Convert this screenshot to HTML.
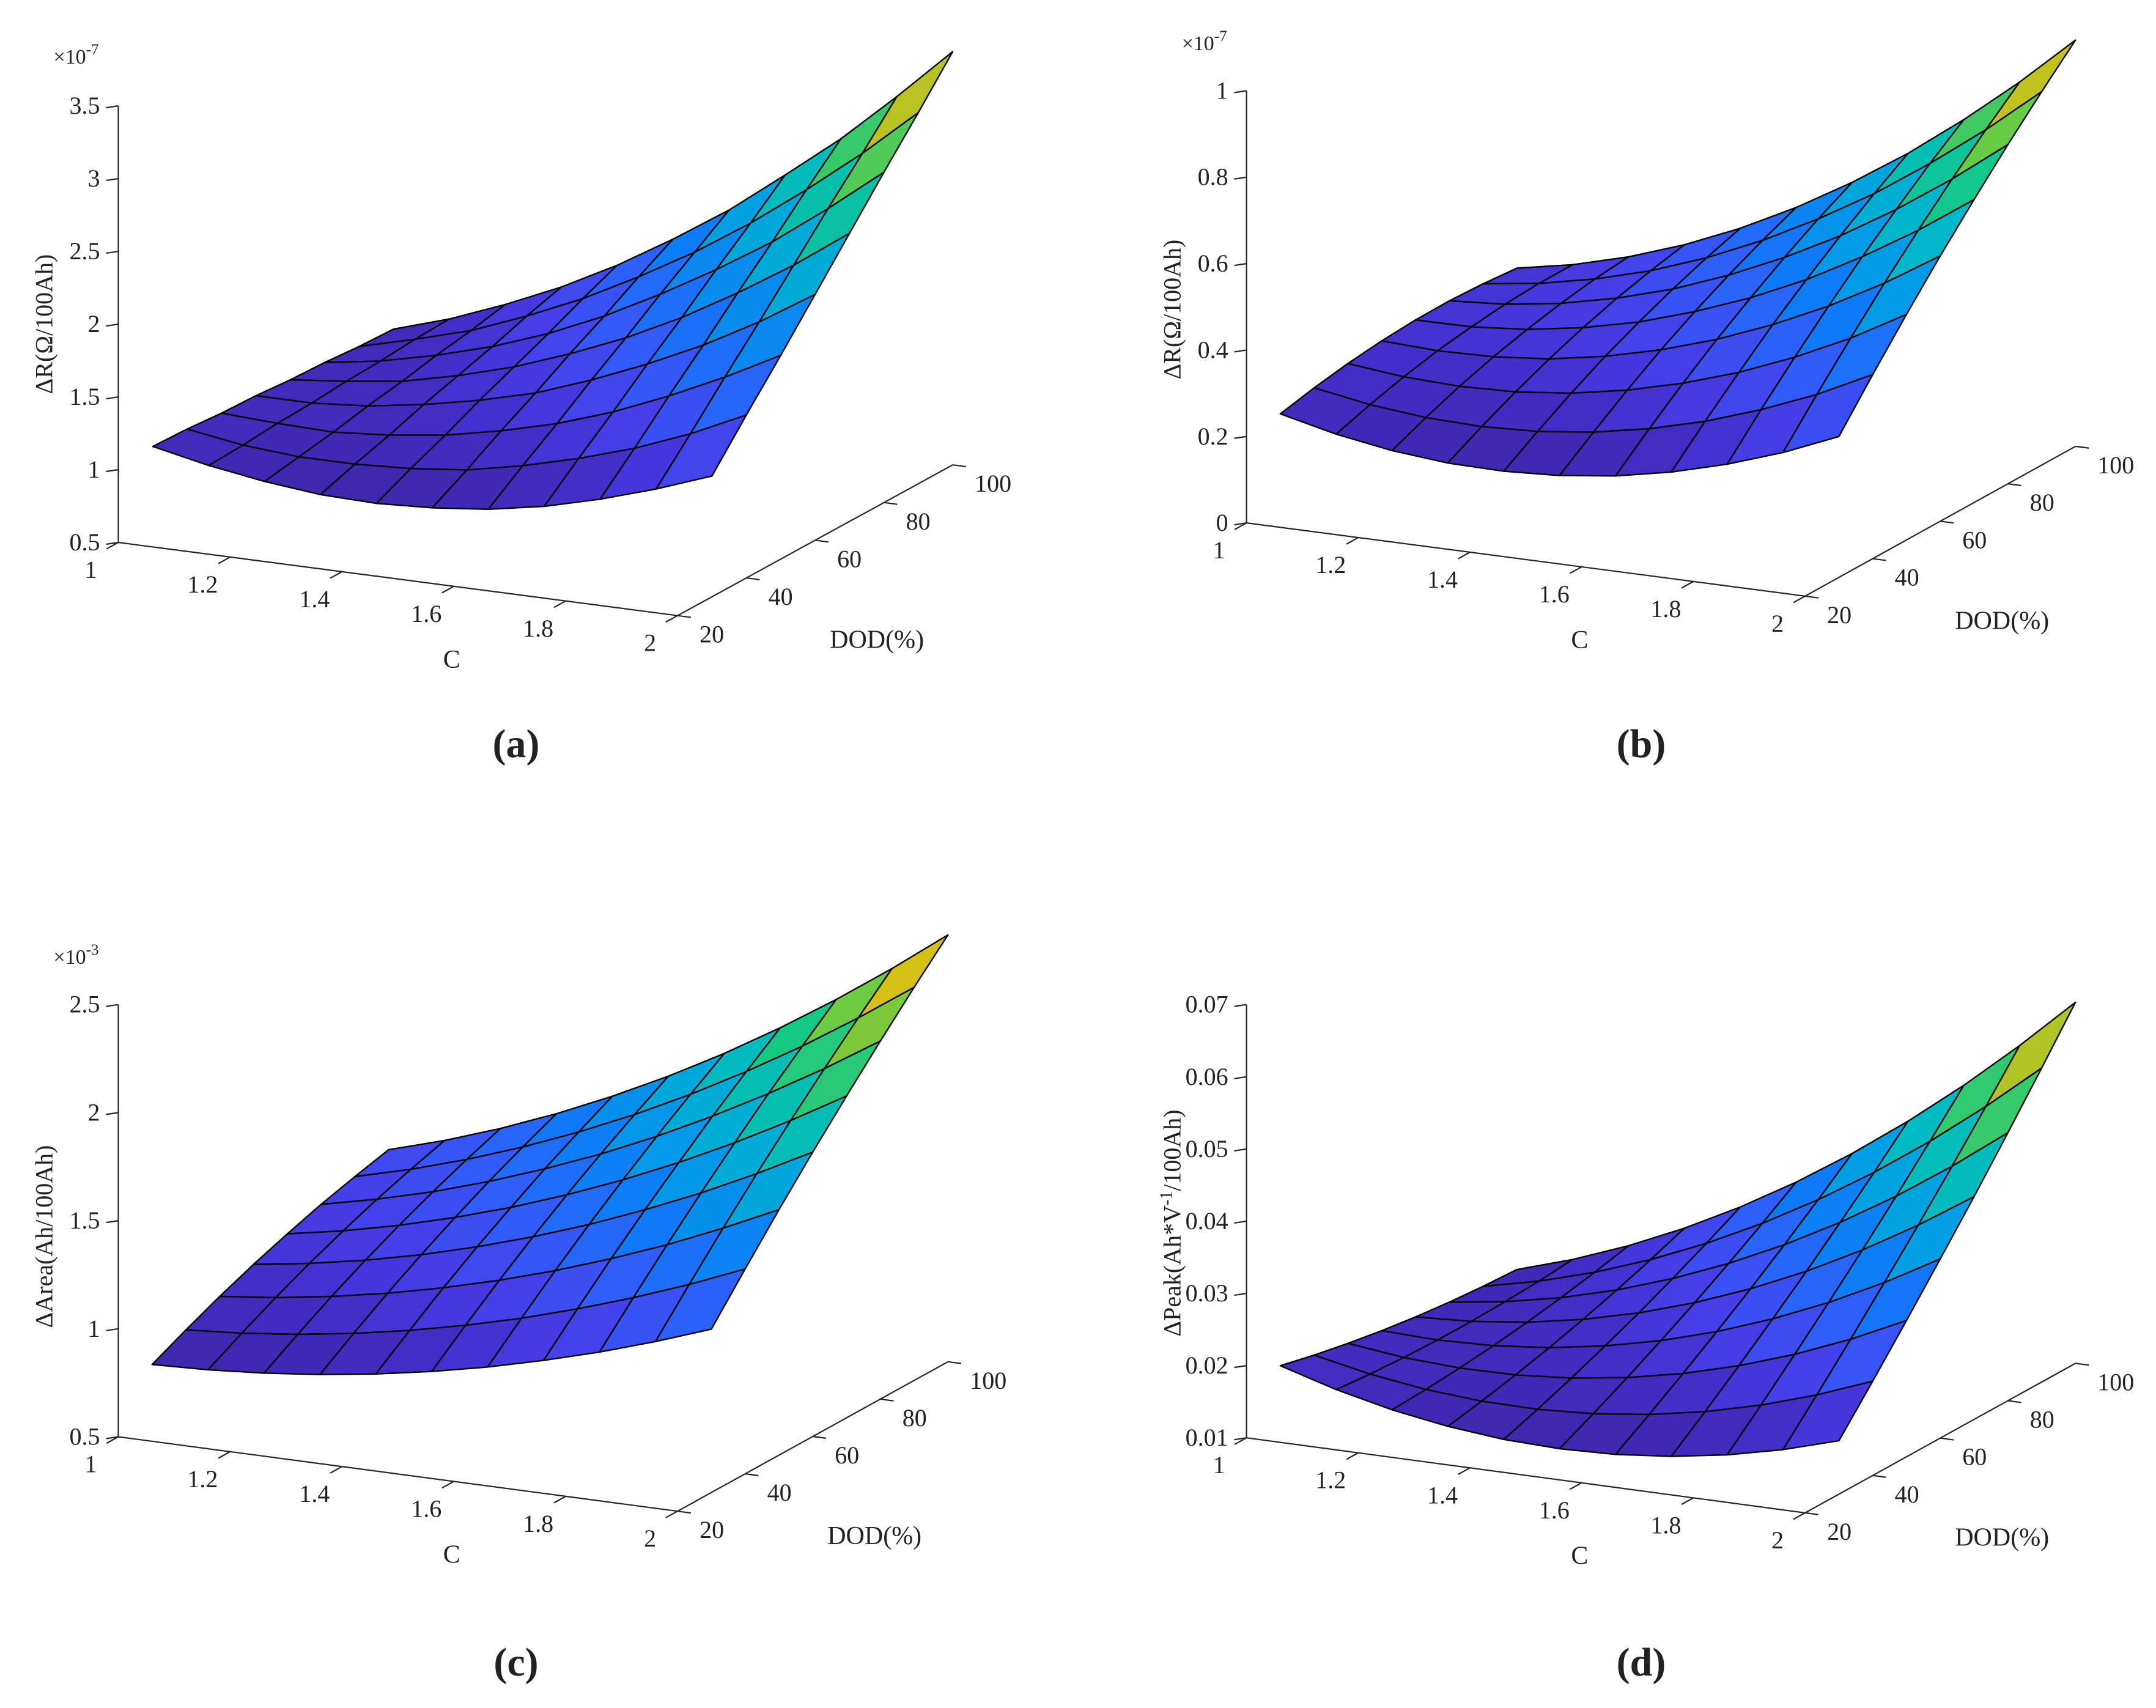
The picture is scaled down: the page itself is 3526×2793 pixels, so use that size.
<!DOCTYPE html>
<html><head><meta charset="utf-8"><style>
html,body{margin:0;padding:0;background:#fff;}
svg{display:block;}
text{font-family:"Liberation Serif",serif;fill:#222;}
</style></head><body>
<svg id="fig" width="3526" height="2793" viewBox="0 0 3526 2793" xmlns="http://www.w3.org/2000/svg">
<rect width="3526" height="2793" fill="#fff"/>
</svg>
<script>
// ---- shared grid values ----
const cValues = [1,1.1,1.2,1.3,1.4,1.5,1.6,1.7,1.8,1.9,2];
const dodValues = [30,40,50,60,70,80,90,100];
const cTicks = [1,1.2,1.4,1.6,1.8,2];
const cTickLabels = ["1","1.2","1.4","1.6","1.8","2"];
const dodTicks = [20,40,60,80,100];
const dodTickLabels = ["20","40","60","80","100"];
// ---- panel (a): ΔR ×1e-7 ----
const zTicksA = [0.5,1,1.5,2,2.5,3,3.5];
const zTickLabelsA = ["0.5","1","1.5","2","2.5","3","3.5"];
const zA = [
[1.03,0.95,0.89,0.85,0.84,0.86,0.90,0.97,1.07,1.19,1.33],
[1.02,0.96,0.93,0.93,0.95,0.99,1.07,1.17,1.29,1.44,1.62],
[1.00,0.98,0.97,1.00,1.05,1.13,1.23,1.36,1.52,1.70,1.90],
[0.99,0.99,1.02,1.08,1.16,1.26,1.40,1.56,1.74,1.95,2.19],
[0.97,1.01,1.06,1.15,1.26,1.40,1.56,1.75,1.97,2.21,2.48],
[0.96,1.02,1.11,1.22,1.36,1.53,1.73,1.95,2.19,2.47,2.77],
[0.94,1.04,1.15,1.30,1.47,1.67,1.89,2.14,2.42,2.72,3.05],
[0.93,1.05,1.20,1.37,1.57,1.80,2.05,2.34,2.64,2.98,3.34]];
// ---- panel (b): ΔR ×1e-7 ----
const zTicksB = [0,0.2,0.4,0.6,0.8,1];
const zTickLabelsB = ["0","0.2","0.4","0.6","0.8","1"];
const zB = [
[0.209,0.179,0.158,0.146,0.144,0.151,0.167,0.193,0.228,0.272,0.326],
[0.226,0.204,0.191,0.187,0.193,0.208,0.233,0.267,0.311,0.363,0.426],
[0.239,0.225,0.220,0.224,0.238,0.262,0.295,0.337,0.389,0.450,0.522],
[0.248,0.242,0.245,0.257,0.280,0.312,0.353,0.404,0.464,0.534,0.614],
[0.253,0.254,0.265,0.286,0.316,0.357,0.406,0.465,0.535,0.613,0.701],
[0.254,0.263,0.282,0.311,0.349,0.398,0.456,0.523,0.601,0.688,0.785],
[0.250,0.268,0.295,0.331,0.378,0.435,0.502,0.577,0.664,0.759,0.864],
[0.243,0.268,0.303,0.348,0.403,0.468,0.543,0.627,0.722,0.826,0.940]];
// ---- panel (c): ΔArea ×1e-3 ----
const zTicksC = [0.5,1,1.5,2,2.5];
const zTickLabelsC = ["0.5","1","1.5","2","2.5"];
const zC = [
[0.748,0.758,0.777,0.805,0.842,0.888,0.943,1.008,1.081,1.164,1.256],
[0.822,0.841,0.870,0.909,0.957,1.015,1.082,1.160,1.246,1.342,1.448],
[0.890,0.919,0.959,1.008,1.068,1.137,1.216,1.306,1.405,1.516,1.636],
[0.952,0.991,1.040,1.100,1.171,1.252,1.343,1.446,1.558,1.682,1.816],
[1.007,1.055,1.115,1.186,1.267,1.360,1.463,1.578,1.704,1.841,1.989],
[1.057,1.115,1.184,1.266,1.359,1.462,1.578,1.706,1.845,1.995,2.157],
[1.099,1.167,1.247,1.339,1.443,1.558,1.686,1.826,1.978,2.143,2.319],
[1.137,1.214,1.304,1.407,1.522,1.649,1.789,1.942,2.107,2.285,2.475]];
// ---- panel (d): ΔPeak ----
const zTicksD = [0.01,0.02,0.03,0.04,0.05,0.06,0.07];
const zTickLabelsD = ["0.01","0.02","0.03","0.04","0.05","0.06","0.07"];
const zD = [
[0.01740,0.01513,0.01337,0.01211,0.01135,0.01110,0.01135,0.01211,0.01337,0.01513,0.01740],
[0.01628,0.01469,0.01360,0.01301,0.01293,0.01336,0.01429,0.01573,0.01767,0.02011,0.02306],
[0.01532,0.01439,0.01398,0.01407,0.01466,0.01577,0.01738,0.01949,0.02211,0.02524,0.02887],
[0.01448,0.01423,0.01449,0.01525,0.01653,0.01831,0.02059,0.02339,0.02669,0.03050,0.03482],
[0.01380,0.01422,0.01514,0.01658,0.01852,0.02097,0.02394,0.02740,0.03138,0.03587,0.04086],
[0.01326,0.01436,0.01595,0.01806,0.02069,0.02381,0.02745,0.03160,0.03626,0.04143,0.04711],
[0.01286,0.01462,0.01689,0.01968,0.02298,0.02678,0.03110,0.03592,0.04126,0.04712,0.05348],
[0.01260,0.01504,0.01798,0.02144,0.02542,0.02990,0.03490,0.04040,0.04642,0.05296,0.06000]];

const NS = "http://www.w3.org/2000/svg";
const SERIF = '"Liberation Serif", serif';
const svg = document.getElementById('fig');
function mk(tag, attrs, parent){ const e=document.createElementNS(NS,tag); for(const k in attrs) e.setAttribute(k,attrs[k]); if(tag==='text' && !attrs['font-family']) e.setAttribute('font-family',SERIF); (parent||svg).appendChild(e); return e; }

const stops = [[0,62,38,168],[0.1,68,44,198],[0.2,70,62,232],[0.3,50,92,252],[0.4,15,122,248],[0.5,0,158,228],[0.6,0,184,200],[0.7,18,200,135],[0.8,110,204,64],[0.9,212,192,22],[1,250,200,40]];
function cmap(v){ v=Math.max(0,Math.min(1,v)); for(let k=1;k<stops.length;k++){ if(v<=stops[k][0]){ const a=stops[k-1],b=stops[k]; const f=(v-a[0])/(b[0]-a[0]); return 'rgb('+[1,2,3].map(q=>Math.round(a[q]+(b[q]-a[q])*f)).join(',')+')'; } } return 'rgb(250,200,40)'; }

function panel(cfg, Z, zTicks, zLabels){
  const g = mk('g',{});
  
  
  const O=cfg.O,U=cfg.U,V=cfg.V,W=cfg.W;
  function P(C,D,z){ const c=(C-1), d=(D-20)/80, t=(z-cfg.zmin)/(cfg.zmax-cfg.zmin); return [O[0]+c*U[0]+d*V[0], O[1]+c*U[1]+d*V[1]+t*W]; }
  const ax = mk('g',{stroke:'#262626','stroke-width':2.2,fill:'none'},g);
  
  
  const zl = mk('line',{x1:O[0],y1:O[1],x2:O[0],y2:O[1]+W},ax);
  
  
  const cl = mk('line',{x1:O[0],y1:O[1],x2:O[0]+U[0],y2:O[1]+U[1]},ax);
  
  
  const dl = mk('line',{x1:O[0]+U[0],y1:O[1]+U[1],x2:O[0]+U[0]+V[0],y2:O[1]+U[1]+V[1]},ax);
  
  
  const vl=Math.hypot(V[0],V[1]), ul=Math.hypot(U[0],U[1]);
  cTicks.forEach((cv,k)=>{
    const p=P(cv,20,cfg.zmin);
    const tk=mk('line',{x1:p[0],y1:p[1],x2:p[0]-V[0]/vl*22,y2:p[1]-V[1]/vl*22},ax);
    
    
    const t=mk('text',{x:p[0]-45,y:p[1]+58,'font-size':40,'text-anchor':'middle'},g);
    t.textContent=cTickLabels[k];
    
    
  });
  dodTicks.forEach((dv,k)=>{
    const c0=P(2,dv,cfg.zmin);
    const tk=mk('line',{x1:c0[0],y1:c0[1],x2:c0[0]+U[0]/ul*22,y2:c0[1]+U[1]/ul*22},ax);
    
    
    const t=mk('text',{x:c0[0]+36,y:c0[1]+44,'font-size':40},g);
    t.textContent=dodTickLabels[k];
    
    
  });
  zTicks.forEach((zv,k)=>{
    const p=P(1,20,zv);
    const tk=mk('line',{x1:p[0],y1:p[1],x2:p[0]-20,y2:p[1]+3},ax);
    
    
    const t=mk('text',{x:p[0]-30,y:p[1]+13,'font-size':40,'text-anchor':'end'},g);
    t.textContent=zLabels[k];
    
    
  });
  const sg = mk('g',{stroke:'#000','stroke-width':2.4,'stroke-linejoin':'round'},g);
  
  
  let mn=Infinity,mx=-Infinity; Z.forEach(r=>r.forEach(v=>{mn=Math.min(mn,v);mx=Math.max(mx,v);}));
  for(let j=dodValues.length-2;j>=0;j--){
    for(let i=0;i<cValues.length-1;i++){
      const a=P(cValues[i],dodValues[j],Z[j][i]), b=P(cValues[i+1],dodValues[j],Z[j][i+1]),
            c=P(cValues[i+1],dodValues[j+1],Z[j+1][i+1]), d=P(cValues[i],dodValues[j+1],Z[j+1][i]);
      const avg=(Z[j][i]+Z[j][i+1]+Z[j+1][i+1]+Z[j+1][i])/4;
      const poly=mk('polygon',{points:[a,b,c,d].map(p=>p[0].toFixed(1)+','+p[1].toFixed(1)).join(' '),fill:cmap((avg-mn)/(mx-mn))},sg);
      
      
    }
  }
  const cm=P(1.5,20,cfg.zmin);
  const ct=mk('text',{x:cm[0]+88,y:cm[1]+145,'font-size':42,'text-anchor':'middle'},g);
  ct.textContent='C';
  
  
  const dm=P(2,60,cfg.zmin);
  const dt=mk('text',{x:dm[0]+101,y:dm[1]+176,'font-size':42,'text-anchor':'middle'},g);
  dt.textContent='DOD(%)';
  
  
  const yt=mk('text',{x:0,y:0,'font-size':40,'text-anchor':'middle',fill:'#333',transform:'translate('+(O[0]-108)+','+cfg.ylabY+') rotate(-90)'},g);
  
  
  if(cfg.ylabSup){
    yt.appendChild(document.createTextNode(cfg.ylab[0]));
    const s=mk('tspan',{dy:-14,'font-size':28},yt); s.textContent=cfg.ylabSup;
    const r=mk('tspan',{dy:14},yt); r.textContent=cfg.ylab[1];
  } else yt.textContent=cfg.ylab;
  if(cfg.mult){
    const m=mk('text',{x:O[0]-106,y:cfg.multY,'font-size':34},g);
    
    
    m.appendChild(document.createTextNode('\u00d710'));
    const s=mk('tspan',{dy:-15,'font-size':25},m); s.textContent=cfg.mult;
  }
  const L=mk('text',{x:cfg.letter[0],y:cfg.letter[1],'font-size':66,'font-weight':'bold','text-anchor':'middle',fill:'#000','font-family':cfg.letterFont},g);
  L.textContent=cfg.letterText;
  
  
}

panel({name:'panel-a',O:[193.5,887],U:[914.6,119.7],V:[450,-246.5],W:-713.9,zmin:0.5,zmax:3.5,ylab:'\u0394R(\u03a9/100Ah)',ylabY:530,mult:'-7',multY:104,letter:[844,1238],letterText:'(a)',letterFont:'"Liberation Sans", sans-serif'}, zA, zTicksA, zTickLabelsA);
panel({name:'panel-b',O:[2038.6,855.1],U:[913.5,119.7],V:[442.2,-244.9],W:-706.7,zmin:0,zmax:1,ylab:'\u0394R(\u03a9/100Ah)',ylabY:506,mult:'-7',multY:82,letter:[2684,1238],letterText:'(b)',letterFont:'"Liberation Serif", serif'}, zB, zTicksB, zTickLabelsB);
panel({name:'panel-c',O:[193.5,2349.5],U:[914.6,121.7],V:[442.2,-244.4],W:-706.8,zmin:0.5,zmax:2.5,ylab:'\u0394Area(Ah/100Ah)',ylabY:2022,mult:'-3',multY:1576,letter:[844,2740],letterText:'(c)',letterFont:'"Liberation Sans", sans-serif'}, zC, zTicksC, zTickLabelsC);
panel({name:'panel-d',O:[2038.6,2351.2],U:[913.5,122.7],V:[442.2,-244.5],W:-708.5,zmin:0.01,zmax:0.07,ylab:['\u0394Peak(Ah*V','/100Ah)'],ylabSup:'-1',ylabY:2000,letter:[2684,2740],letterText:'(d)',letterFont:'"Liberation Serif", serif'}, zD, zTicksD, zTickLabelsD);
</script>
</body></html>
